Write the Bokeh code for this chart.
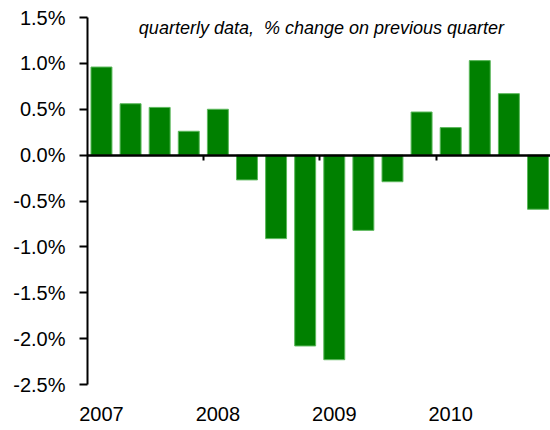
from bokeh.plotting import figure
from bokeh.models import Range1d, LinearAxis, FixedTicker, CustomJSTickFormatter, Label, Grid
from bokeh.embed import file_html
from bokeh.resources import INLINE

# ---- data ----
quarter_index = list(range(16))  # 2007Q1 .. 2010Q4
values = [0.96, 0.56, 0.52, 0.26,
          0.50, -0.27, -0.91, -2.08,
          -2.23, -0.82, -0.29, 0.47,
          0.30, 1.03, 0.67, -0.59]
years = ["2007", "2008", "2009", "2010"]
year_label_pos = [0, 4, 8, 12]
year_boundaries = [-0.5, 3.5, 7.5, 11.5]
y_ticks = [-2.5, -2.0, -1.5, -1.0, -0.5, 0.0, 0.5, 1.0, 1.5]
subtitle = "quarterly data,\u00a0 % change on previous quarter"

FONT = "Liberation Sans"

p = figure(width=550, height=430,
           x_range=Range1d(-0.48, 15.43), y_range=Range1d(-2.5, 1.5),
           x_axis_location=None, y_axis_location=None,
           output_backend="svg", toolbar_location=None,
           min_border_left=87, min_border_right=0,
           min_border_top=17, min_border_bottom=46)
p.outline_line_color = None
p.background_fill_color = "white"
p.border_fill_color = "white"

p.vbar(x=quarter_index, top=values, bottom=0, width=0.72,
       fill_color="#008000", line_color="#5cb85c", line_width=1)

# left axis
yaxis = LinearAxis(ticker=FixedTicker(ticks=y_ticks),
                   formatter=CustomJSTickFormatter(code="return tick.toFixed(1) + '%';"),
                   axis_line_width=2, axis_line_color="black",
                   major_tick_line_width=2, major_tick_line_color="black",
                   major_tick_out=8, major_tick_in=0,
                   minor_tick_line_color=None,
                   major_label_standoff=14,
                   major_label_text_font=FONT,
                   major_label_text_font_size="20px",
                   major_label_text_color="black")
p.add_layout(yaxis, "left")

# zero line axis with year boundary ticks
zaxis = LinearAxis(fixed_location=0,
                   ticker=FixedTicker(ticks=year_boundaries),
                   axis_line_width=2.5, axis_line_color="black",
                   major_tick_line_width=2, major_tick_line_color="black",
                   major_tick_out=5, major_tick_in=0,
                   minor_tick_line_color=None,
                   major_label_text_color=None)
p.add_layout(zaxis, "below")

# year labels axis at bottom
xaxis = LinearAxis(ticker=FixedTicker(ticks=year_label_pos),
                   major_label_overrides={k: v for k, v in zip(year_label_pos, years)},
                   axis_line_color=None, major_tick_line_color=None,
                   minor_tick_line_color=None,
                   major_tick_out=0, major_tick_in=0,
                   major_label_standoff=22,
                   major_label_text_font=FONT,
                   major_label_text_font_size="20px",
                   major_label_text_color="black")
p.add_layout(xaxis, "below")

for g in p.select(type=Grid):
    g.visible = False

p.add_layout(Label(x=7.56, y=1.39, text=subtitle,
                   text_align="center", text_baseline="middle",
                   text_font=FONT, text_font_style="italic",
                   text_font_size="18px", text_color="black"))

open("out.html", "w").write(file_html(p, INLINE))
